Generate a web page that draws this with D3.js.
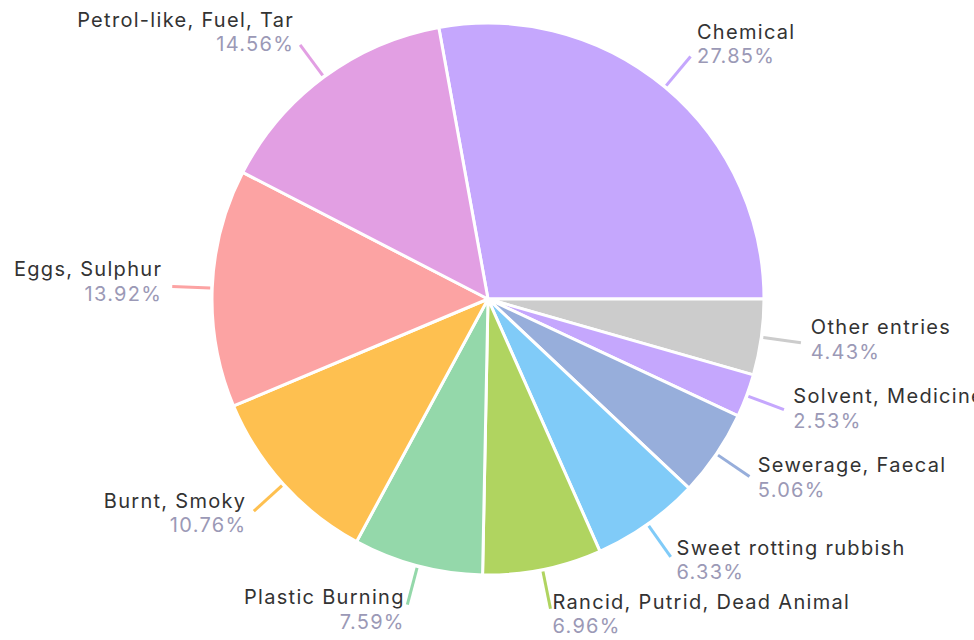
<!DOCTYPE html>
<html><head><meta charset="utf-8">
<script src="https://cdn.jsdelivr.net/npm/d3@7/dist/d3.min.js"></script>
<style>html,body{margin:0;padding:0;background:#fff;overflow:hidden}</style>
</head><body><svg id="c" width="974" height="640"></svg>
<script>
const categories = ["Chemical","Other entries","Solvent, Medicine","Sewerage, Faecal","Sweet rotting rubbish","Rancid, Putrid, Dead Animal","Plastic Burning","Burnt, Smoky","Eggs, Sulphur","Petrol-like, Fuel, Tar"];
const values = [27.85,4.43,2.53,5.06,6.33,6.96,7.59,10.76,13.92,14.56];
const colors = ["#c5a7fd","#cccccc","#c5a7fd","#97aedb","#80cbf8","#b0d460","#94d8aa","#fec050","#fca3a3","#e29fe3"];

const W = 974, H = 640, cx = 488, cy = 299, r = 276;
const svg = d3.select("#c");
const g = svg.append("g").attr("transform", `translate(${cx},${cy})`);
const total = d3.sum(values);
const firstAngle = values[0] / total * 2 * Math.PI;
const pie = d3.pie().sort(null).value(d => d)
  .startAngle(Math.PI / 2 - firstAngle).endAngle(Math.PI / 2 - firstAngle + 2 * Math.PI);
const arcs = pie(values);
const arc = d3.arc().innerRadius(0).outerRadius(r);
const color = d3.scaleOrdinal().domain(categories).range(colors);

g.selectAll("path.slice").data(arcs).join("path")
  .attr("class", "slice")
  .attr("d", arc)
  .attr("fill", (d, i) => color(categories[i]))
  .attr("stroke", "#fff").attr("stroke-width", 3).attr("stroke-linejoin", "round");

const dirOf = d => { const a = (d.startAngle + d.endAngle) / 2; return [Math.sin(a), -Math.cos(a)]; };
g.selectAll("line.tick").data(arcs).join("line")
  .attr("class", "tick")
  .attr("x1", d => dirOf(d)[0] * (r + 2)).attr("y1", d => dirOf(d)[1] * (r + 2))
  .attr("x2", d => dirOf(d)[0] * (r + 40)).attr("y2", d => dirOf(d)[1] * (r + 40))
  .attr("stroke", (d, i) => color(categories[i])).attr("stroke-width", 3);

const fmt = v => v.toFixed(2) + "%";
const font = "Inter, sans-serif";
const lab = g.selectAll("g.lab").data(arcs).join("g").attr("class", "lab")
  .attr("transform", d => { const [dx, dy] = dirOf(d); return `translate(${dx * (r + 50)},${dy * (r + 50) - 5})`; });
lab.append("text")
  .attr("text-anchor", d => dirOf(d)[0] >= 0 ? "start" : "end")
  .attr("y", -5).attr("fill", "#333333")
  .style("font-family", font).style("font-size", "20px").style("letter-spacing", "1.3px")
  .text((d, i) => categories[i]);
lab.append("text")
  .attr("text-anchor", d => dirOf(d)[0] >= 0 ? "start" : "end")
  .attr("y", 19.5).attr("fill", "#9b99b6")
  .style("font-family", font).style("font-size", "20px").style("letter-spacing", "1.3px")
  .text((d, i) => fmt(values[i]));
</script></body></html>
